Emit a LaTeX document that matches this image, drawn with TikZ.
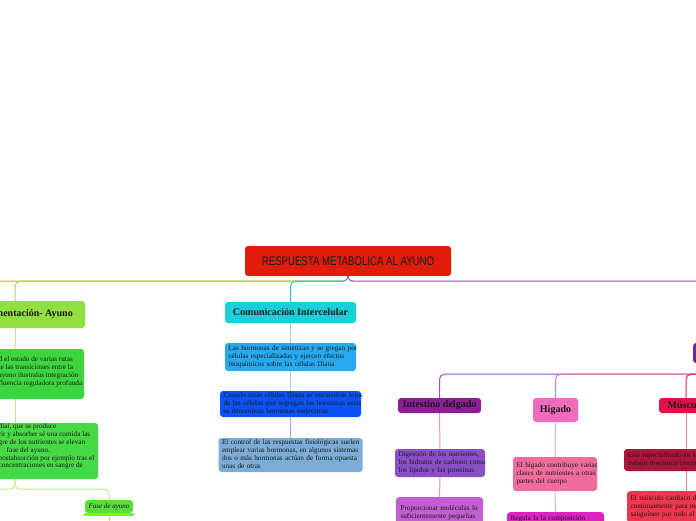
\documentclass[tikz,border=0pt]{standalone}
\usepackage{fontspec}
\setmainfont{Liberation Serif}
\newfontfamily\titlefont{Liberation Sans}
\usepackage{graphicx}
\pgfdeclarelayer{paper}
\pgfdeclarelayer{bg}
\pgfsetlayers{paper,bg,main}
\definecolor{txtcol}{HTML}{1B1B1B}
\definecolor{rootcol}{HTML}{E21C0B}
\definecolor{alicol}{HTML}{8FE040}
\definecolor{g1col}{HTML}{3DD53D}
\definecolor{g2col}{HTML}{45D945}
\definecolor{fasecol}{HTML}{5ADC3A}
\definecolor{fasebar}{HTML}{84F500}
\definecolor{comcol}{HTML}{1AD0D8}
\definecolor{b1col}{HTML}{28AAF0}
\definecolor{b2col}{HTML}{0A52F2}
\definecolor{b3col}{HTML}{7BADD8}
\definecolor{dpcol}{HTML}{6A2C92}
\definecolor{intcol}{HTML}{8E1D98}
\definecolor{i1col}{HTML}{8A4EC6}
\definecolor{i2col}{HTML}{C35FD2}
\definecolor{higcol}{HTML}{F06AC0}
\definecolor{h1col}{HTML}{F06C9E}
\definecolor{h2col}{HTML}{DC22C0}
\definecolor{muscol}{HTML}{E0124A}
\definecolor{m1col}{HTML}{AE133A}
\definecolor{m2col}{HTML}{F0364C}
\definecolor{orangeL}{HTML}{F5A020}
\definecolor{greenL}{HTML}{92E048}
\definecolor{cyanL}{HTML}{20C8D6}
\definecolor{purpleL}{HTML}{9248C8}
\definecolor{greenS}{HTML}{B8F090}
\definecolor{blueS1}{HTML}{9ED4F4}
\definecolor{blueS2}{HTML}{88B4F6}
\definecolor{intL}{HTML}{9A4ECC}
\definecolor{intS}{HTML}{C898E0}
\definecolor{higL}{HTML}{F070B8}
\definecolor{higS}{HTML}{F4A8CC}
\definecolor{musL}{HTML}{E2275C}
\definecolor{musS}{HTML}{EE7A98}
\newcommand\bx[1]{\begin{tabular}{@{}l@{}}#1\end{tabular}}
\tikzset{
  box/.style={rounded corners=3pt, inner sep=0pt, text=txtcol},
  head/.style={box, font=\fontsize{10}{12}\selectfont\bfseries},
  body/.style={box, font=\fontsize{7.2}{7.8}\selectfont, align=left, inner xsep=3.5pt},
  btext/.style={inner sep=0pt, font=\fontsize{7.2}{7.8}\selectfont, text=txtcol, anchor=north west},
  conn/.style={line width=1pt, rounded corners=5pt},
}
\begin{document}
\begin{tikzpicture}[x=1pt,y=-1pt]
\path[use as bounding box] (0,0) rectangle (696,520);
\begin{pgfonlayer}{paper}
\fill[white] (0,0) rectangle (696,520);
\end{pgfonlayer}

% root
\node[box, fill=rootcol, minimum width=206pt, minimum height=30pt,
      font=\titlefont\fontsize{12.5}{14}\selectfont] (root) at (348,261)
      {\scalebox{0.77}[1]{RESPUESTA METABOLICA AL AYUNO}};

% green branch
\node[box, fill=alicol, minimum width=140pt, minimum height=27pt] (ali) at (15,314.5) {};
\node[head, anchor=east] (alit) at (73,314.5) {Alimentación- Ayuno};
\node[box, fill=g1col, minimum width=138pt, minimum height=50pt] (g1) at (15,374) {};
\node[btext] (g1t) at (-1.5,356) {\bx{d el estado de varias rutas\\te las transiciones entre la\\ayuno ilustralas integración\\fluencia reguladora profunda}};
\node[box, fill=g2col, minimum width=166pt, minimum height=56pt] (g2) at (15,451) {};
\node[btext] (g2t) at (-1.5,423.2) {\bx{dial, que se produce\\rir y absorber sé una comida las\\gre de los nutrientes se elevan\\\hspace{8pt}fase del ayuno.\\postabsorción por ejemplo tras el\\concentraciones en sangre de}};
\node[box, fill=fasecol, minimum width=48pt, minimum height=13pt,
      font=\fontsize{7}{8}\selectfont\itshape] (fase) at (109,506.5) {Fase de ayuno};
\fill[fasebar] ([xshift=-1pt]fase.south west) rectangle ([xshift=1pt,yshift=-2.5pt]fase.south east);
\coordinate (oL) at (-30,281);
\coordinate (gL) at (-30,489);
\coordinate (fOut) at (109,535);

% blue branch
\node[head, fill=comcol, minimum width=131pt, minimum height=21pt] (com) at (290.5,312.5) {Comunicación Intercelular};
\node[body, fill=b1col, text width=124pt, minimum height=28pt] (b1) at (290.5,357)
  {\bx{Las hormonas de sintetizan y se gregan por\\células especializadas y ejercen efectos\\bioquímicos sobre las células Diana}};
\node[body, fill=b2col, text width=134pt, minimum height=26pt] (b2) at (290.5,404)
  {\bx{Cuando estás células Diana se encuentran lejos\\de las células que segregan las hormonas estas\\se denominan hormonas endocrinas}};
\node[body, fill=b3col, text width=137pt, minimum height=34pt] (b3) at (290.5,455)
  {\bx{El control de las respuestas fisiológicas suelen\\emplear varias hormonas, en algunos sistemas\\dos o más hormonas actúan de forma opuesta\\unas de otras}};

% purple branch
\node[box, fill=dpcol, minimum width=140pt, minimum height=20pt] (dp) at (763,353) {};
\node[head, fill=intcol, minimum width=83pt, minimum height=15pt] (int) at (439.5,405.5) {Intestino delgado};
\node[body, fill=i1col, text width=83pt, minimum height=28pt] (i1) at (440,463)
  {\bx{Digestión de los nutrientes,\\los hidratos de carbono como\\los lípidos y las proteínas}};
\node[body, fill=i2col, text width=78pt, inner xsep=4.5pt, inner ysep=8pt, anchor=north] (i2) at (439.5,497)
  {\bx{Proporcionar moléculas lo\\suficientemente pequeñas\\para ser absorbidas}};
\node[head, fill=higcol, minimum width=45pt, minimum height=24pt] (hig) at (555.5,410) {Hígado};
\node[body, fill=h1col, text width=77pt, minimum height=34pt] (h1) at (555,474)
  {\bx{El hígado contribuye varias\\clases de nutrientes a otras\\partes del cuerpo}};
\node[body, fill=h2col, text width=90pt, inner ysep=2.5pt, anchor=north] (h2) at (555.5,512)
  {\bx{Regula la la composición\\de la sangre}};
\node[head, fill=muscol, minimum width=54pt, minimum height=15pt] (mus) at (686,405.5) {Músculo};
\node[body, fill=m1col, text width=117pt, minimum height=22pt] (m1) at (686,460)
  {\bx{Está especializado en la realización de\\trabajo mecánico intermitente}};
\node[body, fill=m2col, text width=111pt, inner ysep=4pt, anchor=north] (m2) at (686,491)
  {\bx{El músculo cardiaco de los mamíferos\\continuamente para mantener el flujo\\sanguíneo por todo el cuerpo}};

\begin{pgfonlayer}{bg}
  \draw[conn, orangeL] (root.south) -- ++(0,5) -- (oL);
  \draw[conn, greenL] (root.south) -- ++(0,5) -| (ali.north);
  \draw[conn, cyanL] (root.south) -- ++(0,5) -| (com.north);
  \draw[conn, purpleL] (root.south) -- ++(0,5) -| (dp.north);
  \draw[conn, greenS] (ali.south) -- (g1.north);
  \draw[conn, greenS] (g1.south) -- (g2.north);
  \draw[conn, greenS] (g2.south) -- ++(0,10) -- (gL);
  \draw[conn, greenS] (g2.south) -- ++(0,10) -| (fase.north);
  \draw[conn, greenS] (fase.south) -- (fOut);
  \draw[conn, blueS1] (com.south) -- (b1.north);
  \draw[conn, blueS1] (b1.south) -- (b2.north);
  \draw[conn, blueS2] (b2.south) -- (b3.north);
  \draw[conn, intL] (dp.south) -- ++(0,11) -| (int.north);
  \draw[conn, higL] (dp.south) -- ++(0,11) -| (hig.north);
  \draw[conn, musL] (dp.south) -- ++(0,11) -| (mus.north);
  \draw[conn, intS] (int.south) -- (i1.north);
  \draw[conn, intS] (i1.south) -- (i2.north);
  \draw[conn, higS] (hig.south) -- (h1.north);
  \draw[conn, higS] (h1.south) -- (h2.north);
  \draw[conn, musS] (mus.south) -- (m1.north);
  \draw[conn, musS] (m1.south) -- (m2.north);
\end{pgfonlayer}
\end{tikzpicture}
\end{document}
